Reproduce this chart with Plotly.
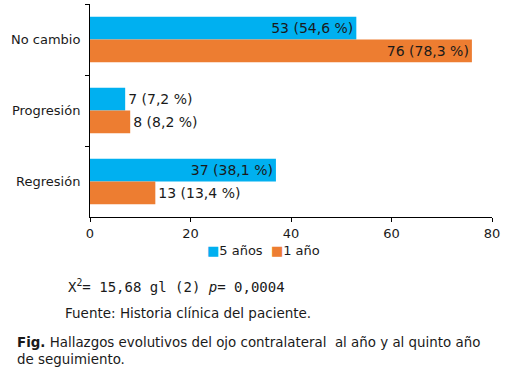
import plotly.graph_objects as go

categories = ["No cambio", "Progresión", "Regresión"]
series_names = ["5 años", "1 año"]
values_5 = [53, 7, 37]
values_1 = [76, 8, 13]
labels_5 = ["53 (54,6 %)", "7 (7,2 %)", "37 (38,1 %)"]
labels_1 = ["76 (78,3 %)", "8 (8,2 %)", "13 (13,4 %)"]
x_ticks = [0, 20, 40, 60, 80]

BLUE = "#00B0F0"
ORANGE = "#ED7D31"
FONT = "DejaVu Sans"
TXT = "#1a1a1a"

def pos(vals):
    return ["inside" if v > 20 else "outside" for v in vals]

fig = go.Figure()
fig.add_trace(go.Bar(
    y=categories, x=values_5, name=series_names[0], orientation="h",
    marker=dict(color=BLUE, line=dict(width=0)),
    text=labels_5, textposition=pos(values_5), insidetextanchor="end",
    textfont=dict(family=FONT, size=14, color=TXT), cliponaxis=False,
    constraintext="none", showlegend=False,
))
fig.add_trace(go.Bar(
    y=categories, x=values_1, name=series_names[1], orientation="h",
    marker=dict(color=ORANGE, line=dict(width=0)),
    text=labels_1, textposition=pos(values_1), insidetextanchor="end",
    textfont=dict(family=FONT, size=14, color=TXT), cliponaxis=False,
    constraintext="none", showlegend=False,
))

H = 213.0  # plot height in px
W = 402.0  # plot width in px

def py(ypix):
    return (217 - ypix) / H

def px(xpix):
    return (xpix - 90) / W

legend_text = (f'<span style="color:{BLUE}">■</span>{series_names[0]}  '
               f'<span style="color:{ORANGE}">■</span>{series_names[1]}')

fig.update_layout(
    width=509, height=379,
    margin=dict(l=90, r=17, t=4, b=162, autoexpand=False),
    paper_bgcolor="white", plot_bgcolor="white",
    barmode="group", bargap=0.36, bargroupgap=0,
    font=dict(family=FONT, size=13, color=TXT),
    showlegend=False,
    xaxis=dict(range=[0, 80], tickvals=x_ticks, showgrid=False, zeroline=False,
               showline=True, linecolor="black", linewidth=1,
               ticks="outside", ticklen=4, tickcolor="black", automargin=False,
               tickfont=dict(family=FONT, size=13, color=TXT)),
    yaxis=dict(autorange="reversed", showgrid=False, zeroline=False,
               showline=True, linecolor="black", linewidth=1,
               ticks="outside", ticklen=4, tickcolor="black", tickson="boundaries",
               automargin=False, ticklabelstandoff=6,
               tickfont=dict(family=FONT, size=13, color=TXT)),
    annotations=[
        dict(xref="paper", yref="paper", x=px(263), y=py(250), xanchor="center", yanchor="middle",
             text=legend_text, showarrow=False,
             font=dict(family=FONT, size=13, color=TXT)),
        dict(xref="paper", yref="paper", x=px(66), y=py(286), xanchor="left", yanchor="middle",
             text="X<sup>2</sup>= 15,68 gl (2) <i>p</i>= 0,0004", showarrow=False,
             font=dict(family="DejaVu Sans Mono", size=14, color=TXT)),
        dict(xref="paper", yref="paper", x=px(63), y=py(313), xanchor="left", yanchor="middle",
             text="Fuente: Historia clínica del paciente.", showarrow=False,
             font=dict(family=FONT, size=13.5, color=TXT)),
        dict(xref="paper", yref="paper", x=px(15), y=py(351), xanchor="left", yanchor="middle",
             text="<b>Fig.</b> Hallazgos evolutivos del ojo contralateral  al año y al quinto año<br>de seguimiento.",
             showarrow=False, align="left",
             font=dict(family=FONT, size=13.4, color=TXT)),
    ],
)

fig.write_html("out.html", config={"displayModeBar": False},
               post_script="document.body.style.margin='0';document.body.style.overflow='hidden';")
